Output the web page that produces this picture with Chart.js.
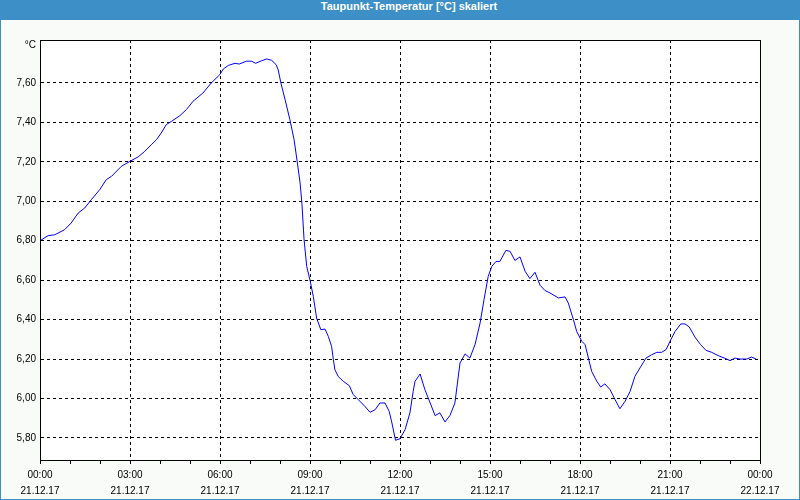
<!DOCTYPE html>
<html>
<head>
<meta charset="utf-8">
<script src="https://cdn.jsdelivr.net/npm/chart.js@4"></script>
<style>
html, body { margin: 0; padding: 0; background: #f8fbf8; }
#wrap { position: relative; width: 800px; height: 500px; }
#title {
    position: absolute; left: 0; top: 0; width: 800px; height: 20px;
    box-sizing: border-box; padding-left: 18px;
    background: #3c8fc7; color: #fff; text-align: center; line-height: 19px;
    font: bold 11px "Liberation Sans", sans-serif;
}
#frame {
    position: absolute; left: 0; top: 0; width: 800px; height: 500px;
    box-sizing: border-box; border: 1px solid #3c8fc7; border-top: none; pointer-events: none;
}
canvas { position: absolute; left: 0; top: 0; }
</style>
</head>
<body>
<div id="wrap">
    <canvas id="dewChart" width="800" height="500"></canvas>
    <div id="title">Taupunkt-Temperatur [°C] skaliert</div>
    <div id="frame"></div>
</div>
<script>
// hours since 21.12.17 00:00
const hours = [
    0.00, 0.27, 0.49, 0.82, 1.04, 1.27, 1.49, 1.71, 1.99, 2.21, 2.38, 2.71, 2.99,
    3.27, 3.49, 3.71, 3.88, 4.04, 4.21, 4.38, 4.66, 4.88, 5.10, 5.43, 5.71, 5.99,
    6.11, 6.28, 6.50, 6.64, 6.89, 7.06, 7.19, 7.39, 7.56, 7.72, 7.87, 7.94,
    8.03, 8.17, 8.33, 8.47, 8.58, 8.67, 8.73, 8.80, 8.89, 9.00, 9.11, 9.22, 9.36,
    9.50, 9.61, 9.72, 9.78, 9.83, 9.94, 10.11, 10.31, 10.44, 10.61, 10.83, 11.00,
    11.17, 11.33, 11.50, 11.64, 11.73, 11.85, 12.00, 12.17, 12.33, 12.44, 12.50,
    12.67, 12.83, 12.94, 13.17, 13.33, 13.50, 13.67, 13.83, 14.00, 14.17, 14.33,
    14.50, 14.67, 14.80, 14.94, 15.06, 15.20, 15.33, 15.53, 15.67, 15.83, 16.00,
    16.17, 16.33, 16.50, 16.67, 16.83, 17.00, 17.28, 17.50, 17.61, 17.78, 17.89,
    18.06, 18.17, 18.28, 18.39, 18.56, 18.69, 18.83, 19.00, 19.17, 19.33, 19.50,
    19.67, 19.83, 20.00, 20.20, 20.39, 20.56, 20.72, 20.87, 21.00, 21.17, 21.36,
    21.50, 21.64, 21.83, 22.02, 22.20, 22.39, 22.61, 22.83, 23.00, 23.17, 23.33,
    23.56, 23.72, 23.87
];
const dewPoint = [
    6.80, 6.826, 6.83, 6.856, 6.89, 6.94, 6.966, 7.008, 7.059, 7.11, 7.126, 7.177, 7.202,
    7.225, 7.253, 7.287, 7.312, 7.346, 7.389, 7.405, 7.434, 7.465, 7.507, 7.549, 7.60, 7.642,
    7.671, 7.689, 7.70, 7.696, 7.711, 7.71, 7.70, 7.713, 7.722, 7.715, 7.693, 7.667,
    7.60, 7.515, 7.414, 7.312, 7.194, 7.093, 6.991, 6.81, 6.67, 6.60, 6.518, 6.408, 6.349,
    6.352, 6.315, 6.264, 6.197, 6.146, 6.112, 6.087, 6.065, 6.02, 5.994, 5.96, 5.93,
    5.943, 5.977, 5.977, 5.935, 5.876, 5.788, 5.796, 5.842, 5.927, 6.036, 6.087,
    6.124, 6.045, 6.003, 5.913, 5.927, 5.881, 5.915, 5.977, 6.18, 6.226, 6.205,
    6.273, 6.383, 6.501, 6.619, 6.67, 6.695, 6.695, 6.751, 6.746, 6.70, 6.718,
    6.645, 6.608, 6.64, 6.574, 6.548, 6.535, 6.51, 6.515, 6.484, 6.40, 6.34,
    6.29, 6.273, 6.205, 6.137, 6.087, 6.058, 6.074, 6.045, 5.994, 5.948, 5.985,
    6.036, 6.112, 6.155, 6.205, 6.222, 6.234, 6.234, 6.248, 6.29, 6.34, 6.378,
    6.378, 6.363, 6.312, 6.273, 6.244, 6.234, 6.217, 6.204, 6.192, 6.205, 6.20,
    6.20, 6.21, 6.20
];

const yTicks = [5.8, 6.0, 6.2, 6.4, 6.6, 6.8, 7.0, 7.2, 7.4, 7.6];
const yUnit = '°C';
const yUnitPos = 7.79;
const yMin = 5.688;
const yMax = 7.818;

const xTickTimes = ['00:00', '03:00', '06:00', '09:00', '12:00', '15:00', '18:00', '21:00', '00:00'];
const xTickDates = ['21.12.17', '21.12.17', '21.12.17', '21.12.17', '21.12.17', '21.12.17', '21.12.17', '21.12.17', '22.12.17'];

Chart.defaults.font.family = '"Liberation Sans", sans-serif';
Chart.defaults.font.size = 10;
Chart.defaults.color = '#000';

// white plot area with a closed black frame
const plotFrame = {
    id: 'plotFrame',
    beforeDraw(chart) {
        const { ctx, chartArea: a } = chart;
        ctx.save();
        ctx.fillStyle = '#fff';
        ctx.fillRect(a.left, a.top, a.right - a.left, a.bottom - a.top);
        ctx.restore();
    },
    afterDraw(chart) {
        const { ctx, chartArea: a } = chart;
        ctx.save();
        ctx.strokeStyle = '#000';
        ctx.lineWidth = 1;
        ctx.strokeRect(a.left + 0.5, a.top + 0.5, a.right - a.left, a.bottom - a.top);
        ctx.restore();
    }
};

const ctx = document.getElementById('dewChart').getContext('2d');
new Chart(ctx, {
    type: 'line',
    data: {
        datasets: [{
            data: hours.map((h, i) => ({ x: h, y: dewPoint[i] })),
            borderColor: '#0000ff',
            borderWidth: 1,
            pointRadius: 0,
            tension: 0,
            fill: false
        }]
    },
    options: {
        responsive: false,
        animation: false,
        devicePixelRatio: 1,
        layout: { padding: { left: 0, top: 40, right: 40, bottom: 0 } },
        plugins: {
            legend: { display: false },
            tooltip: { enabled: false }
        },
        scales: {
            x: {
                type: 'linear',
                min: 0,
                max: 24,
                afterFit: s => { s.height = 40; },
                ticks: {
                    stepSize: 1,
                    autoSkip: false,
                    maxRotation: 0,
                    padding: 3,
                    font: { size: 10, lineHeight: 1.6 },
                    callback: v => v % 3 === 0 ? [xTickTimes[v / 3], xTickDates[v / 3]] : ''
                },
                grid: {
                    color: c => (c.tick && c.tick.value % 3 === 0) ? '#000' : 'rgba(0,0,0,0)',
                    tickColor: '#000',
                    tickLength: 4
                },
                border: { color: '#000', dash: [3, 3] }
            },
            y: {
                min: yMin,
                max: yMax,
                afterFit: s => { s.width = 40; },
                afterBuildTicks: s => {
                    s.ticks = yTicks.map(v => ({ value: v })).concat([{ value: yUnitPos }]);
                },
                ticks: {
                    padding: 4,
                    callback: v => v === yUnitPos ? yUnit : v.toFixed(2).replace('.', ',')
                },
                grid: {
                    drawTicks: false,
                    color: c => (c.tick && c.tick.value === yUnitPos) ? 'rgba(0,0,0,0)' : '#000'
                },
                border: { color: '#000', dash: [3, 3] }
            }
        }
    },
    plugins: [plotFrame]
});
</script>
</body>
</html>
